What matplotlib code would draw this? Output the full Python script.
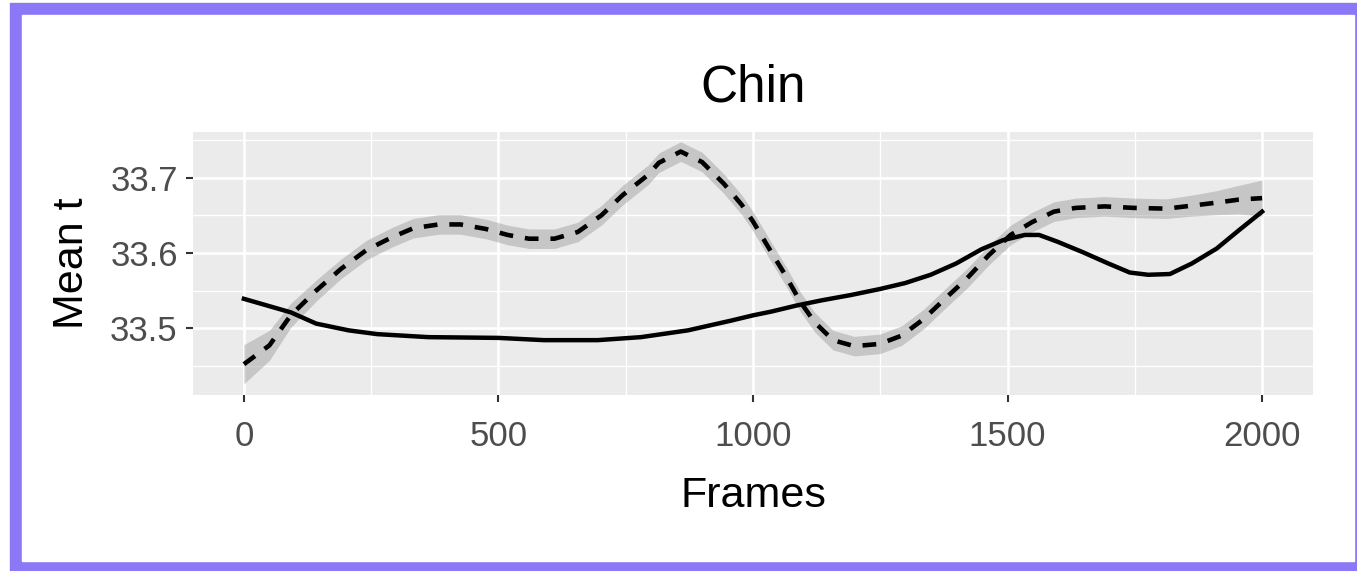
import numpy as np
import matplotlib
matplotlib.use('Agg')
import matplotlib.pyplot as plt
from matplotlib.patches import Rectangle
from matplotlib.ticker import MultipleLocator

plt.rcParams['font.family'] = ['Liberation Sans', 'DejaVu Sans']

# solid curve
solid_x = [0, 92, 142, 206, 262, 362, 500, 589, 695, 780, 872, 957, 1000,
           1036, 1085, 1135, 1192, 1249, 1299, 1349, 1399, 1449, 1491, 1534,
           1562, 1598, 1648, 1698, 1740, 1776, 1819, 1862, 1911, 1954, 2000]
solid_y = [33.539, 33.521, 33.506, 33.497, 33.492, 33.488, 33.487, 33.484,
           33.484, 33.488, 33.497, 33.510, 33.517, 33.522, 33.530, 33.537,
           33.544, 33.552, 33.560, 33.571, 33.586, 33.605, 33.617, 33.624,
           33.624, 33.615, 33.601, 33.586, 33.574, 33.571, 33.572, 33.586,
           33.606, 33.630, 33.655]

# dashed curve with its confidence band
dash_x = [0, 50, 92, 142, 191, 241, 291, 333, 383, 425, 475, 518, 560, 610,
          656, 702, 744, 794, 815, 858, 900, 943, 978, 1000, 1036, 1064, 1093,
          1121, 1157, 1199, 1249, 1292, 1335, 1377, 1420, 1463, 1506, 1548,
          1591, 1634, 1691, 1748, 1812, 1862, 1911, 1954, 2000]
dash_y = [33.452, 33.477, 33.517, 33.550, 33.579, 33.604, 33.621, 33.633,
          33.638, 33.638, 33.632, 33.624, 33.619, 33.619, 33.628, 33.650,
          33.677, 33.704, 33.720, 33.735, 33.721, 33.692, 33.664, 33.642,
          33.601, 33.570, 33.535, 33.508, 33.484, 33.476, 33.479, 33.490,
          33.512, 33.539, 33.566, 33.597, 33.624, 33.641, 33.655, 33.660,
          33.662, 33.660, 33.659, 33.663, 33.667, 33.671, 33.673]
dash_se = [0.026, 0.020, 0.016, 0.014, 0.013, 0.013, 0.013, 0.013, 0.013,
           0.013, 0.013, 0.013, 0.013, 0.013, 0.013, 0.013, 0.013, 0.013,
           0.013, 0.013, 0.013, 0.013, 0.013, 0.013, 0.013, 0.013, 0.013,
           0.013, 0.013, 0.013, 0.013, 0.013, 0.013, 0.013, 0.013, 0.013,
           0.013, 0.013, 0.013, 0.013, 0.013, 0.013, 0.013, 0.014, 0.016,
           0.019, 0.024]

W, H = 1357, 571
fig = plt.figure(figsize=(W / 100, H / 100), dpi=100)

# purple frame round the picture
fig.patches.append(Rectangle((10 / W, 0), 1, 1 - 3 / H, transform=fig.transFigure,
                             color='#8A78F7', zorder=-2))
fig.patches.append(Rectangle((22 / W, 1 - 561 / H), (1354 - 22) / W, (561 - 15) / H,
                             transform=fig.transFigure, color='white', zorder=-1))

ax = fig.add_axes([193 / W, 1 - 395 / H, (1313 - 193) / W, (395 - 132) / H])
ax.set_zorder(1)
ax.set_facecolor('#EBEBEB')
for s in ax.spines.values():
    s.set_visible(False)

lo = np.array(dash_y) - np.array(dash_se)
hi = np.array(dash_y) + np.array(dash_se)
ax.fill_between(dash_x, lo, hi, color='#999999', alpha=0.45, linewidth=0, zorder=2)
ax.plot(dash_x, dash_y, color='black', lw=3.3, linestyle=(0, (3, 2.6)), zorder=3)
ax.plot(solid_x, solid_y, color='black', lw=3.2, zorder=3)

ax.set_xlim(-100, 2100)
ax.set_ylim(33.411, 33.761)
ax.xaxis.set_major_locator(MultipleLocator(500))
ax.xaxis.set_minor_locator(MultipleLocator(250))
ax.yaxis.set_major_locator(MultipleLocator(0.1))
ax.yaxis.set_minor_locator(MultipleLocator(0.05))
ax.set_yticks([33.5, 33.6, 33.7])
ax.set_yticklabels(['33.5', '33.6', '33.7'])
ax.grid(which='major', color='white', lw=1.9)
ax.grid(which='minor', color='white', lw=1.0)
ax.set_axisbelow(True)
ax.tick_params(which='major', length=5, width=1.5, color='#333333',
               labelsize=25, labelcolor='#4D4D4D')
ax.tick_params(axis='y', pad=6)
ax.tick_params(axis='x', pad=13)
ax.tick_params(which='minor', length=0)

fig.text(753 / W, 1 - 101 / H, 'Chin', fontsize=37, ha='center', va='baseline')
fig.text(753 / W, 1 - 507 / H, 'Frames', fontsize=31, ha='center', va='baseline')
fig.text(72 / W, 1 - 263 / H, 'Mean t', fontsize=31, ha='center', va='center',
         rotation=90)

fig.savefig('out.png', dpi=100)
